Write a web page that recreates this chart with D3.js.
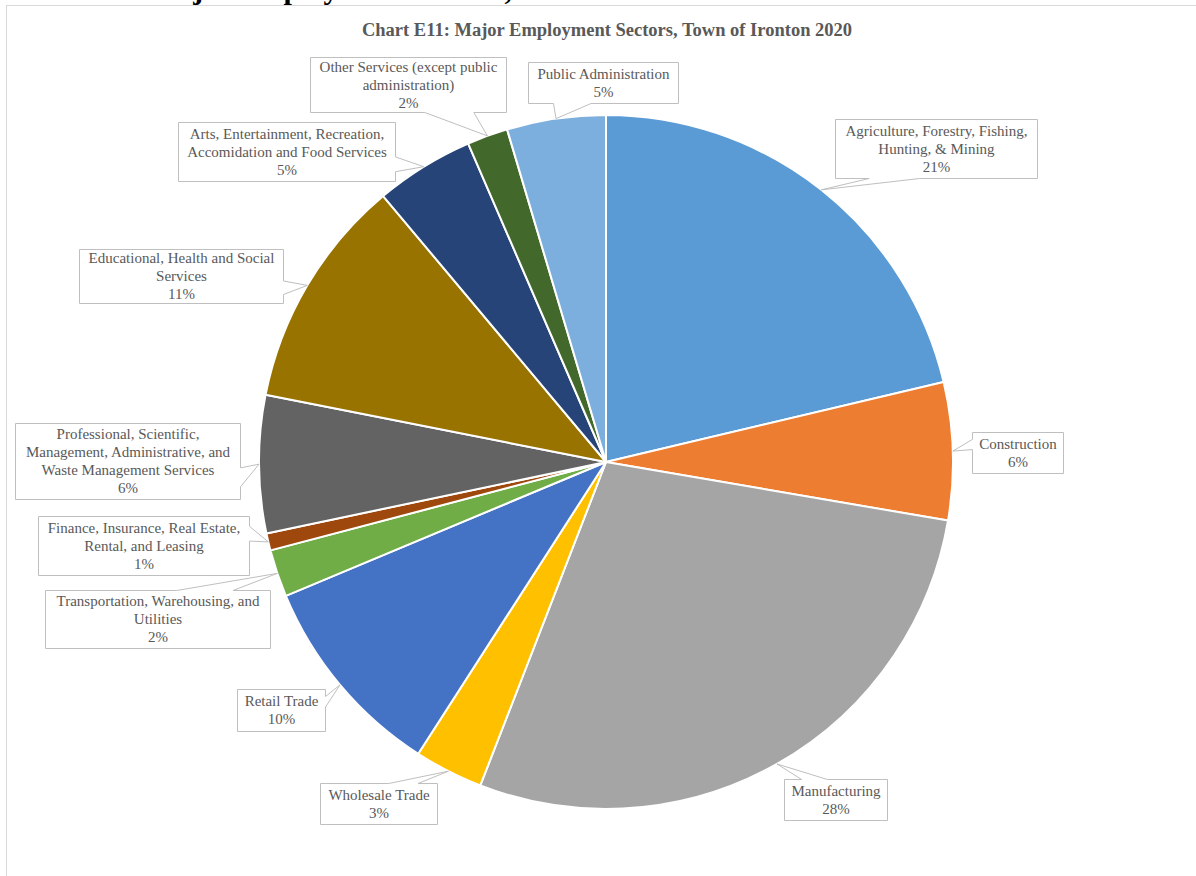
<!DOCTYPE html>
<html>
<head>
<meta charset="utf-8">
<script src="https://cdn.jsdelivr.net/npm/d3@7"></script>
<style>
  html, body { margin: 0; padding: 0; background: #ffffff; }
  svg { display: block; }
</style>
</head>
<body>
<svg id="chart" width="1196" height="876"></svg>
<script>
// ---- data ----
const categories = [
  "Agriculture, Forestry, Fishing, Hunting, & Mining",
  "Construction",
  "Manufacturing",
  "Wholesale Trade",
  "Retail Trade",
  "Transportation, Warehousing, and Utilities",
  "Finance, Insurance, Real Estate, Rental, and Leasing",
  "Professional, Scientific, Management, Administrative, and Waste Management Services",
  "Educational, Health and Social Services",
  "Arts, Entertainment, Recreation, Accomidation and Food Services",
  "Other Services (except public administration)",
  "Public Administration"
];
const values = [21.3, 6.4, 28.2, 3.2, 9.6, 2.2, 0.8, 6.4, 10.8, 4.6, 1.9, 4.6];
const labelLines = [
  ["Agriculture, Forestry, Fishing,", "Hunting, & Mining"],
  ["Construction"],
  ["Manufacturing"],
  ["Wholesale Trade"],
  ["Retail Trade"],
  ["Transportation, Warehousing, and", "Utilities"],
  ["Finance, Insurance, Real Estate,", "Rental, and Leasing"],
  ["Professional, Scientific,", "Management, Administrative, and", "Waste Management Services"],
  ["Educational, Health and Social", "Services"],
  ["Arts, Entertainment, Recreation,", "Accomidation and Food Services"],
  ["Other Services (except public", "administration)"],
  ["Public Administration"]
];
const colors = ["#5B9BD5", "#ED7D31", "#A5A5A5", "#FFC000", "#4472C4", "#70AD47",
                "#9E480E", "#636363", "#997300", "#264478", "#43682B", "#7CAFDD"];
const titleText = "Chart E11: Major Employment Sectors, Town of Ironton 2020";

// ---- layout (label box placement: left, top, width, height) ----
const boxLayout = [
  [835, 119, 202, 59],
  [972, 432, 91, 41],
  [784, 779, 103, 41],
  [320, 783, 117, 41],
  [237, 689, 88, 42],
  [45, 590, 225, 58],
  [38, 516, 211, 59],
  [15, 423, 225, 76],
  [79, 249, 204, 54],
  [178, 122, 217, 59],
  [310, 57, 196, 55],
  [528, 62, 150, 41]
];

const W = 1196, H = 876;
const cx = 606, cy = 462, R = 347;
const svg = d3.select("#chart");

// cut-off heading from the surrounding document
svg.append("text")
  .attr("x", 150).attr("y", -1)
  .attr("font-family", "Liberation Serif, Times New Roman, serif")
  .attr("font-weight", "bold").attr("font-size", 30)
  .attr("fill", "#000")
  .text("Major Employment Sectors, Town of Ironton");

// chart frame
svg.append("rect")
  .attr("x", 6.5).attr("y", 5.5)
  .attr("width", W + 20).attr("height", H + 20)
  .attr("fill", "#ffffff").attr("stroke", "#d9d9d9").attr("stroke-width", 1);

// title
svg.append("text")
  .attr("x", cx + 1).attr("y", 36)
  .attr("text-anchor", "middle")
  .attr("font-family", "Liberation Serif, Times New Roman, serif")
  .attr("font-weight", "bold").attr("font-size", 18.5)
  .attr("fill", "#595959")
  .text(titleText);

const data = categories.map((c, i) => ({ name: c, value: values[i], i }));
const total = d3.sum(values);
const pie = d3.pie().sort(null).value(d => d.value);
const arcs = pie(data);
const arc = d3.arc().innerRadius(0).outerRadius(R);
const rimArc = d3.arc().innerRadius(R).outerRadius(R);

const g = svg.append("g").attr("transform", `translate(${cx},${cy})`);
g.selectAll("path.slice").data(arcs).enter().append("path")
  .attr("class", "slice")
  .attr("d", arc)
  .attr("fill", d => colors[d.data.i])
  .attr("stroke", "#ffffff")
  .attr("stroke-width", 2)
  .attr("stroke-linejoin", "round");

function calloutPath(x, y, w, h, tx, ty) {
  const hc = x + w / 2, vc = y + h / 2;
  const dxPos = tx - hc, dyPos = ty - vc;
  const horiz = Math.abs(dxPos * h) > Math.abs(dyPos * w);
  const x1 = x + w * (dxPos > 0 ? 7 : 2) / 12, x2 = x + w * (dxPos > 0 ? 10 : 5) / 12;
  const y1 = y + h * (dyPos > 0 ? 7 : 2) / 12, y2 = y + h * (dyPos > 0 ? 10 : 5) / 12;
  const r = x + w, b = y + h;
  let p = `M${x},${y}`;
  if (!horiz && dyPos < 0) p += `L${x1},${y}L${tx},${ty}L${x2},${y}`;
  p += `L${r},${y}`;
  if (horiz && dxPos > 0) p += `L${r},${y1}L${tx},${ty}L${r},${y2}`;
  p += `L${r},${b}`;
  if (!horiz && dyPos > 0) p += `L${x2},${b}L${tx},${ty}L${x1},${b}`;
  p += `L${x},${b}`;
  if (horiz && dxPos < 0) p += `L${x},${y2}L${tx},${ty}L${x},${y1}`;
  return p + "Z";
}

const lineH = 18;
const labels = svg.append("g");
arcs.forEach(d => {
  const i = d.data.i;
  const [bx, by, bw, bh] = boxLayout[i];
  const [px, py] = rimArc.centroid(d);
  const tx = cx + px, ty = cy + py;
  labels.append("path")
    .attr("d", calloutPath(bx + 0.5, by + 0.5, bw, bh, tx, ty))
    .attr("fill", "#ffffff")
    .attr("stroke", "#bfbfbf")
    .attr("stroke-width", 1);
  const lines = labelLines[i].concat([Math.round(d.data.value / total * 100) + "%"]);
  const y0 = by + bh / 2 - (lines.length - 1) * lineH / 2;
  const t = labels.append("text")
    .attr("text-anchor", "middle")
    .attr("font-family", "Liberation Serif, Times New Roman, serif")
    .attr("font-size", 15)
    .attr("fill", "#595959");
  lines.forEach((ln, k) => {
    t.append("tspan")
      .attr("x", bx + bw / 2 + 0.5)
      .attr("y", y0 + k * lineH)
      .attr("dy", "0.35em")
      .text(ln);
  });
});
</script>
</body>
</html>
